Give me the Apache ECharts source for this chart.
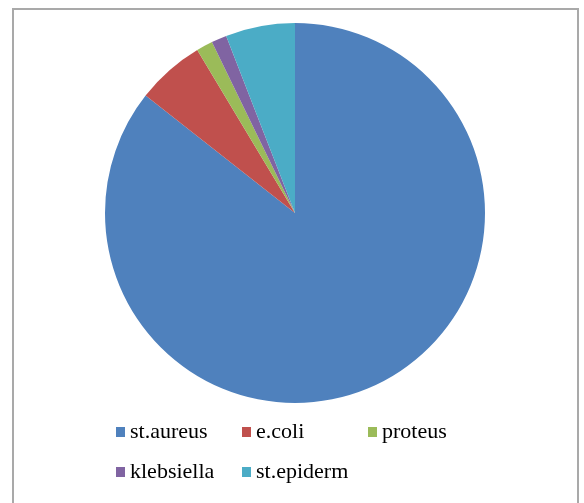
<!DOCTYPE html>
<html>
<head>
<meta charset="utf-8">
<script src="https://cdn.jsdelivr.net/npm/echarts@6/dist/echarts.min.js"></script>
<style>
  html, body { margin: 0; padding: 0; background: #fff; }
  #chart { width: 584px; height: 503px; }
</style>
</head>
<body>
<div id="chart"></div>
<script>
// share of isolates
var names = ['st.aureus', 'e.coli', 'proteus', 'klebsiella', 'st.epiderm']
var values = [85.6, 5.8, 1.4, 1.3, 5.9]
var colors = ['#4F81BD', '#C0504D', '#9BBB59', '#8064A2', '#4BACC6']

var chart = echarts.init(document.getElementById('chart'))

chart.setOption({
  animation: false,
  color: colors,
  graphic: [
    {
      type: 'rect',
      shape: { x: 13, y: 9, width: 565, height: 520 },
      style: { fill: 'none', stroke: '#a9a9a9', lineWidth: 2 },
      silent: true
    }
  ],
  legend: {
    left: 111,
    top: 411,
    width: 400,
    orient: 'horizontal',
    icon: 'rect',
    itemWidth: 9,
    itemHeight: 10,
    itemGap: 8,
    data: names,
    textStyle: {
      fontFamily: '"Liberation Serif", "DejaVu Serif", serif',
      fontSize: 22,
      color: '#000',
      width: 104,
      lineHeight: 32
    }
  },
  series: [
    {
      type: 'pie',
      center: [295, 213],
      radius: 190,
      startAngle: 90,
      clockwise: true,
      label: { show: false },
      labelLine: { show: false },
      emphasis: { disabled: true },
      itemStyle: { borderWidth: 0 },
      data: names.map(function(n, i) {
        return { name: n, value: values[i] }
      })
    }
  ]
})
</script>
</body>
</html>
